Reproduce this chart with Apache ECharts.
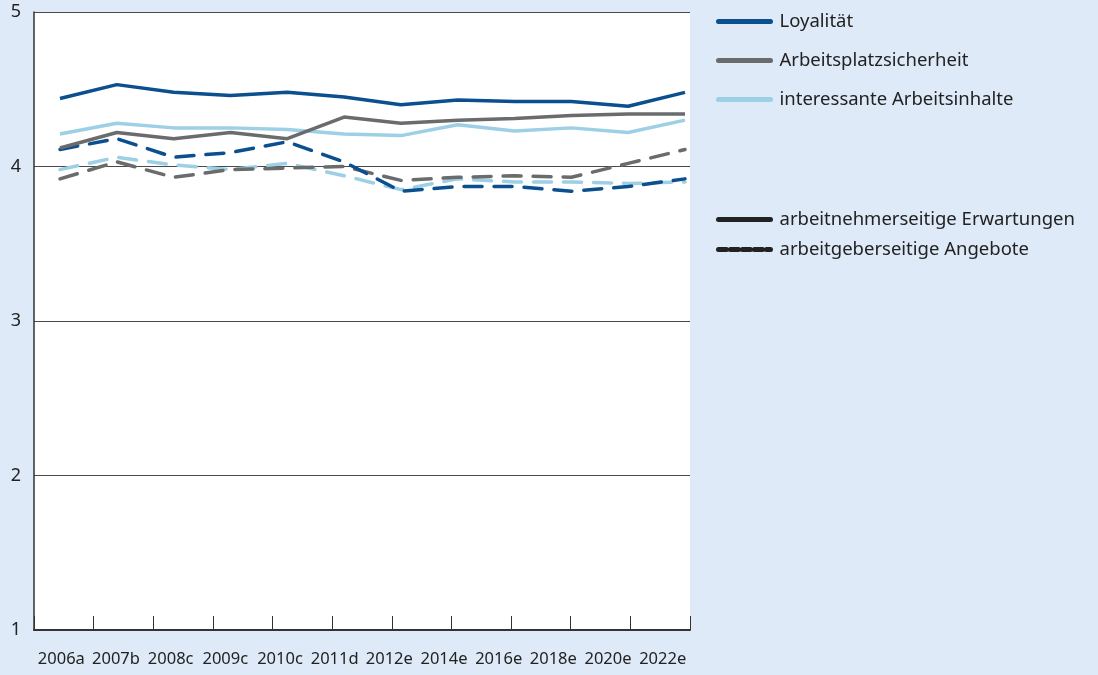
<!DOCTYPE html>
<html>
<head>
<meta charset="utf-8">
<script src="https://cdn.jsdelivr.net/npm/echarts@6/dist/echarts.min.js"></script>
<style>
  html, body { margin: 0; padding: 0; background: #deeaf7; }
  #chart { width: 1098px; height: 675px; }
</style>
</head>
<body>
<div id="chart"></div>
<script>
// Kategorien (Erhebungswellen)
var years = ['2006a', '2007b', '2008c', '2009c', '2010c', '2011d', '2012e', '2014e', '2016e', '2018e', '2020e', '2022e'];

// arbeitnehmerseitige Erwartungen (durchgezogen)
var loyalErw   = [4.44, 4.53, 4.48, 4.46, 4.48, 4.45, 4.40, 4.43, 4.42, 4.42, 4.39, 4.48];
var sicherErw  = [4.12, 4.22, 4.18, 4.22, 4.18, 4.32, 4.28, 4.30, 4.31, 4.33, 4.34, 4.34];
var inhaltErw  = [4.21, 4.28, 4.25, 4.25, 4.24, 4.21, 4.20, 4.27, 4.23, 4.25, 4.22, 4.30];

// arbeitgeberseitige Angebote (gestrichelt)
var loyalAng   = [4.11, 4.18, 4.06, 4.09, 4.16, 4.03, 3.84, 3.87, 3.87, 3.84, 3.87, 3.92];
var sicherAng  = [3.92, 4.03, 3.93, 3.98, 3.99, 4.00, 3.91, 3.93, 3.94, 3.93, 4.02, 4.11];
var inhaltAng  = [3.98, 4.06, 4.01, 3.98, 4.02, 3.94, 3.85, 3.92, 3.90, 3.90, 3.89, 3.90];

var yTicks = [1, 2, 3, 4, 5];

var DARK = '#0b4f8f', GRAY = '#6a6b6d', LIGHT = '#9dcfe5';

function pts(arr) {
  return arr.map(function (v, i) { return [i, v]; });
}

function solid(name, color, data) {
  return {
    name: name, type: 'line', xAxisIndex: 2, symbol: 'none', data: pts(data),
    lineStyle: { color: color, width: 3.5 }, itemStyle: { color: color }
  };
}
function dashed(name, color, data) {
  return {
    name: name, type: 'line', xAxisIndex: 2, symbol: 'none', data: pts(data),
    lineStyle: { color: color, width: 3.5, type: [18, 12], cap: 'round' }, itemStyle: { color: color }
  };
}

var chart = echarts.init(document.getElementById('chart'));
var font = '"Noto Sans", sans-serif';
// Legende nur als Linie, ohne Symbol
var noSymbol = { color: 'rgba(0,0,0,0)', borderWidth: 0, opacity: 0 };

chart.setOption({
  backgroundColor: '#deeaf7',
  animation: false,
  textStyle: { fontFamily: font },
  grid: { left: 34, right: 408, top: 12, bottom: 45, show: true, backgroundColor: '#fff', borderWidth: 0 },
  legend: [{
    orient: 'vertical', left: 716, top: 12, padding: 0,
    itemWidth: 52, itemHeight: 16, itemGap: 20,
    lineStyle: { width: 5, cap: 'round' },
    itemStyle: noSymbol,
    textStyle: { fontSize: 18.5, color: '#222', fontFamily: font, padding: [0, 0, 0, 4] },
    data: ['Loyalität', 'Arbeitsplatzsicherheit', 'interessante Arbeitsinhalte']
  }, {
    orient: 'vertical', left: 716, top: 210, padding: 0,
    itemWidth: 52, itemHeight: 16, itemGap: 11,
    lineStyle: { width: 5, cap: 'round' },
    itemStyle: noSymbol,
    textStyle: { fontSize: 18.5, color: '#222', fontFamily: font, padding: [0, 0, 0, 4] },
    data: ['arbeitnehmerseitige Erwartungen', 'arbeitgeberseitige Angebote']
  }],
  xAxis: [{
    // Beschriftung: 12 Kategorien
    type: 'category', data: years, position: 'bottom', boundaryGap: true,
    axisLine: { show: true, onZero: false, lineStyle: { color: '#333', width: 2 } },
    axisTick: { show: false },
    axisLabel: { fontSize: 16.5, color: '#222', margin: 21, interval: 0 },
    splitLine: { show: false }
  }, {
    // Teilstriche: 11 Intervalle
    type: 'category', data: ['', '', '', '', '', '', '', '', '', '', ''], position: 'bottom', boundaryGap: true,
    axisLine: { show: false, onZero: false },
    axisTick: { show: true, inside: true, length: 14, interval: 0, lineStyle: { color: '#333', width: 1 } },
    axisLabel: { show: false },
    splitLine: { show: false }
  }, {
    type: 'value', show: false, min: -0.4576, max: 11.088,
    splitLine: { show: false }
  }],
  yAxis: {
    type: 'value', min: yTicks[0], max: yTicks[yTicks.length - 1], interval: 1,
    axisLine: { show: true, onZero: false, lineStyle: { color: '#333', width: 1.5 } },
    axisTick: { show: false },
    axisLabel: { fontSize: 18, color: '#222', margin: 13 },
    splitLine: { show: true, lineStyle: { color: '#4a4a4a', width: 1.2 } }
  },
  series: [
    dashed('_ldash', LIGHT, inhaltAng),
    dashed('_gdash', GRAY, sicherAng),
    dashed('_bdash', DARK, loyalAng),
    solid('interessante Arbeitsinhalte', LIGHT, inhaltErw),
    solid('Arbeitsplatzsicherheit', GRAY, sicherErw),
    solid('Loyalität', DARK, loyalErw),
    { name: 'arbeitnehmerseitige Erwartungen', type: 'line', xAxisIndex: 2, symbol: 'none', data: [],
      lineStyle: { color: '#222', width: 3.5 }, itemStyle: { color: '#222' } },
    { name: 'arbeitgeberseitige Angebote', type: 'line', xAxisIndex: 2, symbol: 'none', data: [],
      lineStyle: { color: '#222', width: 3.5, type: [8, 4] }, itemStyle: { color: '#222' } }
  ]
});
</script>
</body>
</html>
